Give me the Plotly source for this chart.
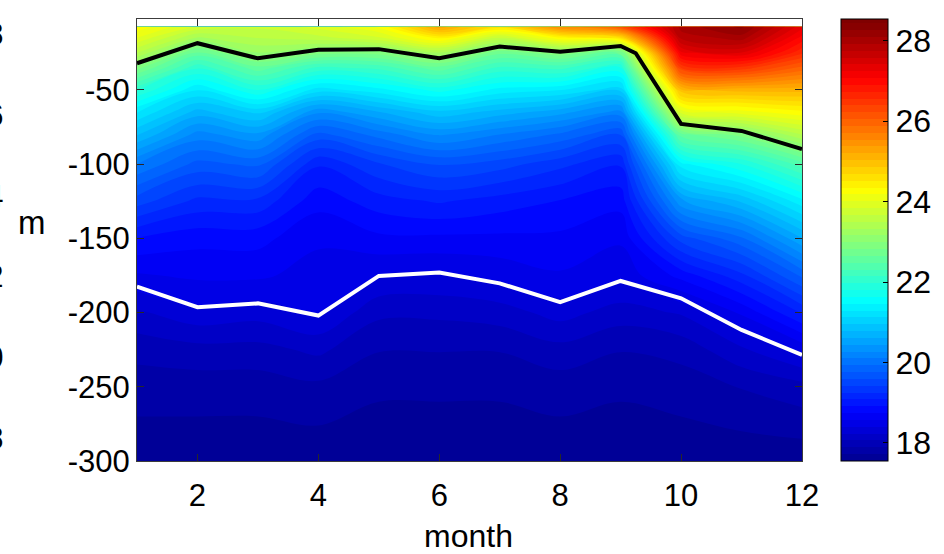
import plotly.graph_objects as go

MONTHS = [1, 2, 3, 4, 5, 6, 7, 8, 9, 10, 11, 12]
DEPTHS = [-7.5, -15, -25, -35, -50, -65, -80, -100, -125, -150, -175, -200, -225, -250, -300]

# temperature profiles (degC), one list per month, ordered as DEPTHS
T_M01 = [24.3, 24.0, 23.5, 22.9, 22.0, 21.3, 20.8, 20.1, 19.5, 18.9, 18.55, 18.2, 17.95, 17.8, 17.6]
T_M02 = [23.8, 23.3, 22.6, 22.0, 21.3, 20.7, 20.2, 19.7, 19.2, 18.8, 18.6, 18.35, 18.0, 17.8, 17.6]
T_M03 = [23.7, 23.5, 23.15, 22.6, 21.8, 21.0, 20.4, 19.8, 19.2, 18.8, 18.6, 18.3, 18.0, 17.8, 17.6]
T_M04 = [23.9, 23.6, 22.9, 22.1, 21.2, 20.3, 19.7, 19.1, 18.8, 18.6, 18.5, 18.42, 18.1, 17.85, 17.6]
T_M05 = [24.2, 23.8, 22.9, 22.2, 21.4, 20.6, 20.0, 19.4, 19.0, 18.7, 18.4, 18.1, 17.9, 17.75, 17.6]
T_M06 = [25.3, 24.4, 23.3, 22.6, 21.7, 20.9, 20.3, 19.6, 19.1, 18.7, 18.38, 18.1, 17.9, 17.75, 17.6]
T_M07 = [24.6, 23.6, 22.7, 22.1, 21.4, 20.7, 20.1, 19.5, 19.0, 18.7, 18.45, 18.15, 17.9, 17.75, 17.6]
T_M08 = [25.6, 24.3, 22.95, 22.2, 21.3, 20.5, 19.9, 19.3, 18.9, 18.7, 18.55, 18.3, 18.0, 17.8, 17.6]
T_M09 = [26.2, 24.6, 22.6, 21.8, 21.0, 20.2, 19.6, 19.1, 18.8, 18.6, 18.45, 18.15, 17.9, 17.75, 17.6]
T_M10 = [28.0, 27.8, 27.2, 26.4, 25.0, 23.9, 22.6, 21.4, 20.4, 19.5, 18.8, 18.25, 17.95, 17.8, 17.6]
T_M11 = [28.3, 28.0, 27.4, 26.5, 25.1, 24.1, 22.9, 21.8, 20.8, 19.9, 19.2, 18.6, 18.2, 17.9, 17.6]
T_M12 = [27.3, 27.0, 26.6, 26.0, 25.1, 24.3, 23.5, 22.4, 21.4, 20.6, 19.8, 19.1, 18.45, 18.0, 17.6]

# black line (upper) and white line (lower), depth in m
BLACK_X = [1, 2, 3, 4, 5, 6, 7, 8, 9, 9.25, 10, 11, 12]
BLACK_Y = [-32, -18.5, -28.7, -23, -22.5, -28.7, -20.8, -24.2, -20.4, -25.3, -72.9, -77.6, -89.8]
WHITE_X = [1, 2, 3, 4, 5, 6, 7, 8, 9, 10, 11, 12]
WHITE_Y = [-182.5, -196.4, -193.8, -202, -175.3, -173, -180.3, -193, -178.7, -190.4, -211.7, -228.5]

X_TICKS = [2, 4, 6, 8, 10, 12]
Y_TICKS = [-300, -250, -200, -150, -100, -50]
Y_TICK_TEXT = ["-300", "-250", "-200", "-150", "-100", "-50"]
CB_TICKS = [18, 20, 22, 24, 26, 28]
SIDE_LABELS = ["28", "26", "24", "22", "20", "18"]
SIDE_LABEL_PX = [34, 115, 196, 277, 357, 438]

profiles = [T_M01, T_M02, T_M03, T_M04, T_M05, T_M06, T_M07, T_M08, T_M09, T_M10, T_M11, T_M12]
Z = [[profiles[j][i] for j in range(len(MONTHS))] for i in range(len(DEPTHS))]

# MATLAB jet(64)
JET = [[0, "rgb(0,0,143)"], [7 / 63, "rgb(0,0,255)"], [23 / 63, "rgb(0,255,255)"],
       [39 / 63, "rgb(255,255,0)"], [55 / 63, "rgb(255,0,0)"], [1, "rgb(128,0,0)"]]

W, H = 944, 554
L, R, T, B = 136.7, 801.7, 19, 461
FONT = "Liberation Sans, Arial, Helvetica, sans-serif"

fig = go.Figure()
fig.add_trace(go.Contour(
    x=MONTHS, y=DEPTHS, z=Z,
    colorscale=JET, zmin=17.55, zmax=28.54,
    contours=dict(start=17.55, end=28.54, size=0.17, coloring="fill", showlines=False),
    line=dict(width=0),
    colorbar=dict(
        x=(841 - L) / (R - L), xanchor="left", xpad=0, ypad=0,
        y=0.5, yanchor="middle", len=1.0, lenmode="fraction",
        thickness=47, thicknessmode="pixels",
        outlinecolor="black", outlinewidth=1,
        tickvals=CB_TICKS, ticks="inside", ticklen=5, tickcolor="black",
        tickfont=dict(family=FONT, size=32, color="black"),
    ),
))
fig.add_trace(go.Scatter(x=BLACK_X, y=BLACK_Y, mode="lines",
                         line=dict(color="black", width=4), showlegend=False))
fig.add_trace(go.Scatter(x=WHITE_X, y=WHITE_Y, mode="lines",
                         line=dict(color="white", width=4), showlegend=False))

axis_common = dict(showline=True, linecolor="rgb(60,60,60)", linewidth=1, mirror="ticks",
                   ticks="inside", ticklen=7, tickcolor="rgb(40,40,40)", showgrid=False,
                   zeroline=False, tickfont=dict(family=FONT, size=31, color="black"))
fig.update_xaxes(range=[1, 12], tickvals=X_TICKS, ticklabelstandoff=7, **axis_common)
fig.update_yaxes(range=[-300, -2.2], tickvals=Y_TICKS, ticktext=Y_TICK_TEXT, **axis_common)

def px_x(p):
    return (p - L) / (R - L)

def px_y(p):
    return (B - p) / (B - T)

ann = [
    dict(text="m", x=px_x(32), y=px_y(222), xref="paper", yref="paper",
         showarrow=False, xanchor="center", yanchor="middle",
         font=dict(family=FONT, size=33, color="black")),
    dict(text="month", x=px_x(468), y=px_y(536), xref="paper", yref="paper",
         showarrow=False, xanchor="center", yanchor="middle",
         font=dict(family=FONT, size=32, color="black")),
]
for lab, yp in zip(SIDE_LABELS, SIDE_LABEL_PX):
    ann.append(dict(text=lab, x=px_x(5), y=px_y(yp), xref="paper", yref="paper",
                    showarrow=False, xanchor="right", yanchor="middle",
                    font=dict(family=FONT, size=31, color="black")))

fig.update_layout(
    width=W, height=H,
    margin=dict(l=L, r=W - R, t=T, b=H - B, pad=0, autoexpand=False),
    paper_bgcolor="white", plot_bgcolor="white",
    showlegend=False, annotations=ann,
)
fig.write_html("out.html")
